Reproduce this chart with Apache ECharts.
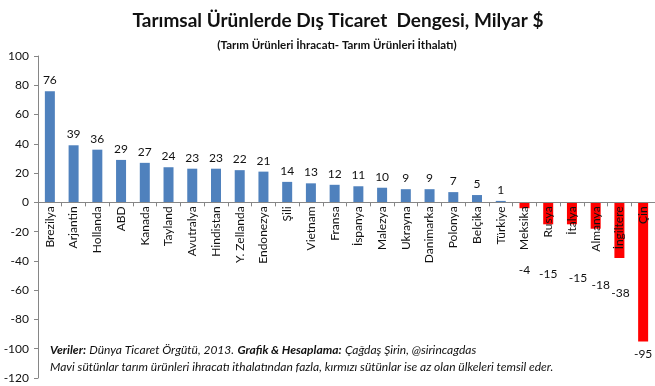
<!DOCTYPE html>
<html><head><meta charset="utf-8">
<script src="https://cdn.jsdelivr.net/npm/echarts@6/dist/echarts.min.js"></script>
<style>html,body{margin:0;padding:0;background:#fff}#c{width:655px;height:386px}</style>
</head><body><div id="c"></div>
<script>
const categories = ["Brezilya","Arjantin","Hollanda","ABD","Kanada","Tayland","Avutralya","Hindistan","Y. Zellanda","Endonezya","Şili","Vietnam","Fransa","İspanya","Malezya","Ukrayna","Danimarka","Polonya","Belçika","Türkiye","Meksika","Rusya","İtalya","Almanya","İngiltere","Çin"];
const values = [76,39,36,29,27,24,23,23,22,21,14,13,12,11,10,9,9,7,5,1,-4,-15,-15,-18,-38,-95];
const yTicks = {min:-120, max:100, interval:20};
const titleText = "Tarımsal Ürünlerde Dış Ticaret  Dengesi, Milyar $";
const subtitleText = "(Tarım Ürünleri İhracatı- Tarım Ürünleri İthalatı)";

// label nudges for the negative bars (dx, dy), mimicking manual label placement
const negLabelNudge = {"-4_20":[0,51],"-15_21":[0,39],"-15_22":[6,43],"-18_23":[5,45],"-38_24":[1,24],"-95_25":[0,2]};

const FONT = 'Lato';
const GRID_H = 322;
// move the category axis (line, ticks and labels) up to the zero line
const zeroOffset = -GRID_H * (0 - yTicks.min) / (yTicks.max - yTicks.min);

const data = values.map((v,i)=>{
  const o = {value:v, itemStyle:{color: v>=0 ? '#4F81BD' : '#FF0000'}};
  if (v<0){
    const n = negLabelNudge[v+'_'+i] || [0,0];
    o.label = {position:'bottom', offset:n};
  }
  return o;
});

const chart = echarts.init(document.getElementById('c'), null, {renderer:'canvas'});
chart.setOption({
  animation:false,
  textStyle:{fontFamily:FONT},
  title:[
    {text:titleText, left:333, top:6, textAlign:'center', textStyle:{fontFamily:FONT,fontWeight:'bold',fontSize:19,color:'#111'}},
    {text:subtitleText, left:332, top:34, textAlign:'center', textStyle:{fontFamily:FONT,fontWeight:'bold',fontSize:11.5,color:'#111'}}
  ],
  grid:{left:38, right:0, top:56, height:GRID_H, containLabel:false, outerBoundsMode:'none'},
  xAxis:{
    type:'category', data:categories, position:'bottom', offset:zeroOffset, z:10,
    axisLine:{onZero:false, lineStyle:{color:'#868686',width:1}},
    axisTick:{show:true, length:4, lineStyle:{color:'#868686'}},
    axisLabel:{rotate:90, fontSize:12, color:'#111', margin:4, interval:0, hideOverlap:false, showMaxLabel:true, showMinLabel:true, fontFamily:FONT}
  },
  yAxis:{
    type:'value', min:yTicks.min, max:yTicks.max, interval:yTicks.interval,
    axisLine:{show:true, lineStyle:{color:'#868686'}},
    axisTick:{show:true, length:4, lineStyle:{color:'#868686'}},
    splitLine:{show:false},
    axisLabel:{fontSize:12, color:'#111', margin:9, fontFamily:FONT}
  },
  series:[{
    type:'bar', data:data, barWidth:10, z:2,
    label:{show:true, position:'top', fontSize:12, color:'#111', fontFamily:FONT, distance:5}
  }],
  graphic:[
    {type:'text', left:50, top:344, style:{
      text:'{b|Veriler:} {n|Dünya Ticaret Örgütü, 2013.} {b|Grafik & Hesaplama:} {n|Çağdaş Şirin, @sirincagdas}',
      rich:{b:{fontFamily:FONT,fontStyle:'italic',fontWeight:'bold',fontSize:12,fill:'#111'},
            n:{fontFamily:FONT,fontStyle:'italic',fontSize:12,fill:'#111'}}
    }},
    {type:'text', left:50, top:361, style:{
      text:'Mavi sütünlar tarım ürünleri ihracatı ithalatından fazla, kırmızı sütünlar ise az olan ülkeleri temsil eder.',
      font:'italic 12px '+FONT, fill:'#111'
    }}
  ]
});
</script></body></html>
